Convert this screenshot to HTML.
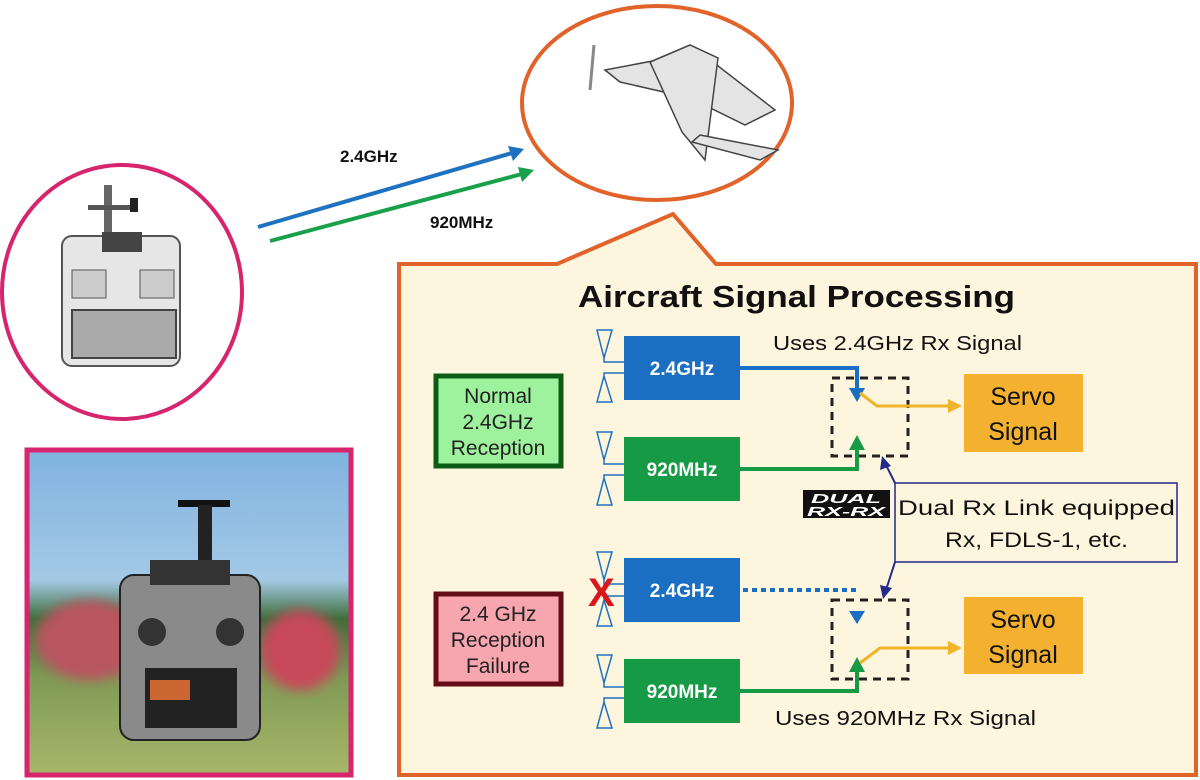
<!DOCTYPE html>
<html><head><meta charset="utf-8"><style>
html,body{margin:0;padding:0;background:#fff;}
svg{display:block;font-family:"Liberation Sans","DejaVu Sans",sans-serif;}
</style></head><body>
<svg width="1200" height="780" viewBox="0 0 1200 780" xmlns="http://www.w3.org/2000/svg">
<defs>
<linearGradient id="sky" x1="0" y1="0" x2="0" y2="1">
<stop offset="0" stop-color="#7fb2e0"/><stop offset="0.4" stop-color="#a4c9e6"/><stop offset="0.52" stop-color="#3d6e3a"/><stop offset="0.7" stop-color="#7f9a55"/><stop offset="1" stop-color="#a7b76a"/>
</linearGradient>
<filter id="bl"><feGaussianBlur stdDeviation="6"/></filter>
</defs>
<!-- transmitter circle -->
<ellipse cx="122" cy="292" rx="120" ry="127" fill="#fff" stroke="#d6246e" stroke-width="4"/>
<g>
<rect x="104" y="185" width="8" height="50" fill="#666"/>
<rect x="88" y="205" width="50" height="5" fill="#555"/>
<rect x="130" y="198" width="8" height="14" fill="#222"/>
<rect x="62" y="236" width="118" height="130" rx="10" fill="#e6e6e6" stroke="#555" stroke-width="2"/>
<rect x="102" y="232" width="40" height="20" fill="#444"/>
<rect x="72" y="270" width="34" height="28" fill="#ccc" stroke="#555"/>
<rect x="140" y="270" width="34" height="28" fill="#ccc" stroke="#555"/>
<rect x="72" y="310" width="104" height="48" fill="#aaa" stroke="#444" stroke-width="2"/>
</g>
<!-- aircraft ellipse -->
<ellipse cx="657" cy="103" rx="135" ry="97" fill="#fff" stroke="#e2632a" stroke-width="4"/>
<g fill="#e4e4e4" stroke="#444" stroke-width="1.5">
<polygon points="605,70 700,52 775,110 745,125 690,98 620,82"/>
<polygon points="650,62 690,45 718,58 705,160 682,132"/>
<polygon points="700,135 778,150 760,160 692,142"/>
</g>
<line x1="594" y1="45" x2="590" y2="90" stroke="#888" stroke-width="3"/>
<!-- signal arrows -->
<line x1="258" y1="227" x2="512" y2="153" stroke="#1f72c0" stroke-width="4"/>
<polygon points="524,149 508,146 513,161" fill="#1f72c0"/>
<line x1="270" y1="241" x2="522" y2="174" stroke="#19a04b" stroke-width="4"/>
<polygon points="534,170 518,167 522,182" fill="#19a04b"/>
<text x="340" y="162" font-size="17" font-weight="bold" fill="#111">2.4GHz</text>
<text x="430" y="228" font-size="17" font-weight="bold" fill="#111">920MHz</text>
<!-- photo -->
<rect x="27" y="450" width="324" height="325" fill="url(#sky)" stroke="#d6246e" stroke-width="5"/>
<g filter="url(#bl)">
<ellipse cx="90" cy="640" rx="55" ry="40" fill="#b9555f"/>
<ellipse cx="300" cy="650" rx="40" ry="40" fill="#c7485a"/>
</g>
<g>
<rect x="178" y="500" width="52" height="7" fill="#111"/>
<rect x="198" y="505" width="14" height="60" fill="#222"/>
<rect x="120" y="575" width="140" height="165" rx="14" fill="#8a8a8a" stroke="#222" stroke-width="2"/>
<rect x="150" y="560" width="80" height="25" fill="#333"/>
<circle cx="152" cy="632" r="14" fill="#333"/><circle cx="230" cy="632" r="14" fill="#333"/>
<rect x="145" y="668" width="92" height="60" fill="#222"/>
<rect x="150" y="680" width="40" height="20" fill="#c63"/>
</g>
<!-- panel -->
<path d="M399 264 L557 264 L673 214 L716 264 L1196 264 L1196 775 L399 775 Z" fill="#fdf5dd" stroke="#e2632a" stroke-width="4"/>
<text x="578" y="307" font-size="31" font-weight="bold" fill="#111" textLength="437" lengthAdjust="spacingAndGlyphs">Aircraft Signal Processing</text>
<text x="773" y="350" font-size="20" fill="#111" textLength="249" lengthAdjust="spacingAndGlyphs">Uses 2.4GHz Rx Signal</text>
<text x="775" y="725" font-size="20" fill="#111" textLength="261" lengthAdjust="spacingAndGlyphs">Uses 920MHz Rx Signal</text>
<!-- state boxes -->
<rect x="436" y="376" width="125" height="90" fill="#9ef29e" stroke="#0c5c18" stroke-width="5"/>
<text font-size="21" fill="#222" text-anchor="middle"><tspan x="498" y="403">Normal</tspan><tspan x="498" y="429">2.4GHz</tspan><tspan x="498" y="455">Reception</tspan></text>
<rect x="436" y="594" width="125" height="90" fill="#f7a5ae" stroke="#640d18" stroke-width="5"/>
<text font-size="21" fill="#222" text-anchor="middle"><tspan x="498" y="621">2.4 GHz</tspan><tspan x="498" y="647">Reception</tspan><tspan x="498" y="673">Failure</tspan></text>
<!-- antennas -->
<g fill="none" stroke="#1f72c0" stroke-width="1.5">
<path d="M597 330 L612 330 L604 358 Z M604 358 L604 362 L624 362"/>
<path d="M597 402 L612 402 L604 376 Z M604 376 L604 373 L624 373"/>
<path d="M597 432 L612 432 L604 460 Z M604 460 L604 464 L624 464"/>
<path d="M597 505 L612 505 L604 478 Z M604 478 L604 475 L624 475"/>
<path d="M597 552 L612 552 L604 580 Z M604 580 L604 584 L624 584"/>
<path d="M597 626 L612 626 L604 600 Z M604 600 L604 596 L624 596"/>
<path d="M597 655 L612 655 L604 683 Z M604 683 L604 687 L624 687"/>
<path d="M597 728 L612 728 L604 702 Z M604 702 L604 698 L624 698"/>
</g>
<text x="588" y="606" font-size="40" font-weight="bold" fill="#d8161e">X</text>
<!-- rx boxes -->
<rect x="624" y="336" width="116" height="64" fill="#1a6fc2"/>
<text x="682" y="375" font-size="19" font-weight="bold" fill="#fff" text-anchor="middle">2.4GHz</text>
<rect x="624" y="437" width="116" height="64" fill="#169a46"/>
<text x="682" y="476" font-size="19" font-weight="bold" fill="#fff" text-anchor="middle">920MHz</text>
<rect x="624" y="558" width="116" height="64" fill="#1a6fc2"/>
<text x="682" y="597" font-size="19" font-weight="bold" fill="#fff" text-anchor="middle">2.4GHz</text>
<rect x="624" y="659" width="116" height="64" fill="#169a46"/>
<text x="682" y="698" font-size="19" font-weight="bold" fill="#fff" text-anchor="middle">920MHz</text>
<!-- dashed switch boxes -->
<rect x="832" y="378" width="76" height="78" fill="none" stroke="#222" stroke-width="3" stroke-dasharray="8,6"/>
<rect x="832" y="600" width="76" height="79" fill="none" stroke="#222" stroke-width="3" stroke-dasharray="8,6"/>
<!-- top connectors -->
<polyline points="740,368 857,368 857,390" fill="none" stroke="#1a6fc2" stroke-width="4"/>
<polygon points="849,388 865,388 857,402" fill="#1a6fc2"/>
<polyline points="740,469 857,469 857,448" fill="none" stroke="#169a46" stroke-width="4"/>
<polygon points="849,450 865,450 857,435" fill="#169a46"/>
<polyline points="860,393 877,406 950,406" fill="none" stroke="#f0b429" stroke-width="3"/>
<polygon points="948,399 962,406 948,413" fill="#f0b429"/>
<!-- bottom connectors -->
<line x1="743" y1="590" x2="860" y2="590" stroke="#1a6fc2" stroke-width="4" stroke-dasharray="5,4"/>
<polygon points="849,611 865,611 857,624" fill="#1a6fc2"/>
<polyline points="740,691 857,691 857,670" fill="none" stroke="#169a46" stroke-width="4"/>
<polygon points="849,672 865,672 857,657" fill="#169a46"/>
<polyline points="860,663 880,648 950,648" fill="none" stroke="#f0b429" stroke-width="3"/>
<polygon points="948,641 962,648 948,655" fill="#f0b429"/>
<!-- servo -->
<rect x="964" y="374" width="119" height="78" fill="#f3b12f"/>
<text font-size="25" fill="#111" text-anchor="middle"><tspan x="1023" y="405">Servo</tspan><tspan x="1023" y="440">Signal</tspan></text>
<rect x="964" y="597" width="119" height="77" fill="#f3b12f"/>
<text font-size="25" fill="#111" text-anchor="middle"><tspan x="1023" y="628">Servo</tspan><tspan x="1023" y="663">Signal</tspan></text>
<!-- dual box -->
<rect x="895" y="483" width="282" height="79" fill="none" stroke="#222a8a" stroke-width="1.5"/>
<line x1="895" y1="483" x2="886" y2="465" stroke="#222a8a" stroke-width="2"/>
<polygon points="882,456 880,470 891,466" fill="#222a8a"/>
<line x1="895" y1="562" x2="886" y2="590" stroke="#222a8a" stroke-width="2"/>
<polygon points="883,599 880,585 892,588" fill="#222a8a"/>
<rect x="803" y="490" width="87" height="28" fill="#111"/>
<text x="846" y="503" font-size="13" font-weight="bold" fill="#fff" text-anchor="middle" font-style="italic" textLength="70" lengthAdjust="spacingAndGlyphs">DUAL</text>
<text x="846" y="516" font-size="13" font-weight="bold" fill="#fff" text-anchor="middle" font-style="italic" textLength="78" lengthAdjust="spacingAndGlyphs">RX-RX</text>
<text x="898" y="515" font-size="21" fill="#111" textLength="277" lengthAdjust="spacingAndGlyphs">Dual Rx Link equipped</text>
<text x="945" y="547" font-size="21" fill="#111" textLength="183" lengthAdjust="spacingAndGlyphs">Rx, FDLS-1, etc.</text>
</svg>
</body></html>
